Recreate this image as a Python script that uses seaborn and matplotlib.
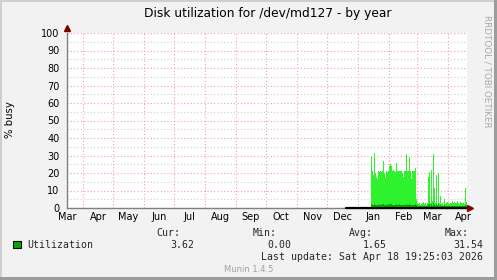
import matplotlib
matplotlib.use("Agg")
import matplotlib.pyplot as plt
import matplotlib.dates as mdates
from matplotlib.ticker import MultipleLocator, NullFormatter
from matplotlib.patches import Rectangle
import seaborn as sns
import pandas as pd
import numpy as np

# ---------------- data ----------------
title = "Disk utilization for /dev/md127 - by year"
ylabel = "% busy"
x_start = "2025-03-16"
x_end = "2026-04-20"

# daily maximum of utilization, starting 2026-01-14
max_start = "2026-01-14"
max_values = [29, 21, 19, 31.5, 20, 18, 16.5, 21, 20.5, 21,
              20.5, 21, 27, 20, 17, 21, 20.5, 21, 24, 25,
              24, 21, 21.5, 21, 20.5, 25.5, 21, 21, 21, 21,
              21, 20, 18, 21, 21, 30.8, 21, 21, 29, 21,
              16.5, 21, 21, 21, 23,
              5, 3, 2.5, 3, 2, 2.5, 3, 3.5, 2.5, 3,
              2, 3, 18, 20.7, 3, 21.7, 4, 30.8, 11.4, 3,
              19, 2, 20, 3, 6.6, 2.5, 3, 2, 5, 2.5,
              3, 3.5, 3, 2.5, 3, 3, 4, 3, 3.5, 3,
              3, 4, 3, 2.5, 3.5, 3, 3, 3, 2.5, 11.4, 3.6]

# daily average of utilization, starting 2026-01-14
avg_start = "2026-01-14"
avg_values = [2.5, 2, 1.8, 2.2, 2, 1.8, 1.6, 2, 2.1, 2,
              1.9, 2.2, 2.4, 2, 1.8, 2, 2.1, 2, 2.3, 2.2,
              2.4, 2, 2, 1.9, 2, 2.3, 2, 2, 2.1, 2,
              2, 1.9, 1.8, 2, 2, 2.5, 2, 2, 2.4, 2,
              1.7, 2, 2, 2, 2.2,
              1.5, 1.2, 1, 1.2, 0.9, 1, 1.2, 1.3, 1, 1.2,
              0.9, 1.2, 2.2, 2.4, 1.2, 2.5, 1.4, 3, 1.6, 1.2,
              2.2, 0.9, 2.3, 1.2, 1.5, 1, 1.2, 0.9, 1.5, 1,
              1.2, 1.3, 1.2, 1, 1.2, 1.2, 1.4, 1.2, 1.3, 1.2,
              1.2, 1.4, 1.2, 1, 1.3, 1.2, 1.2, 1.2, 1, 1.8, 1.4]

# daily minimum, starting 2025-12-20
min_start = "2025-12-20"
min_values = [0.0] * 120

legend_name = "Utilization"
stat_labels = ["Cur:", "Min:", "Avg:", "Max:"]
stat_values = ["3.62", "0.00", "1.65", "31.54"]
last_update = "Last update: Sat Apr 18 19:25:03 2026"
credit = "RRDTOOL / TOBI OETIKER"
footer = "Munin 1.4.5"

# ---------------- style ----------------
sns.set_style("white")
plt.rcParams["font.family"] = ["DejaVu Sans"]

W, H = 497, 280
fig = plt.figure(figsize=(W / 100, H / 100), dpi=100)
fig.patch.set_facecolor("#F2F2F2")

def fx(px):
    return px / W

def fy(py):
    return 1 - py / H

left_px, right_px, top_px, bot_px = 67, 467, 33, 208
ax = fig.add_axes([fx(left_px), fy(bot_px), fx(right_px - left_px), (bot_px - top_px) / H])
ax.set_facecolor("white")

BRIGHT = "#2DF22D"
DARK = "#00AA00"

def series(start, vals):
    d = pd.date_range(start, periods=len(vals), freq="D")
    d_ext = d.append(pd.DatetimeIndex([d[-1] + pd.Timedelta(days=1)]))
    v_ext = list(vals) + [vals[-1]]
    return d_ext, np.array(v_ext, dtype=float)

d_max, v_max = series(max_start, max_values)
d_avg, v_avg = series(avg_start, avg_values)
d_min, v_min = series(min_start, min_values)

ax.fill_between(d_max, v_max, step="post", color=BRIGHT, lw=0, zorder=2)
ax.fill_between(d_avg, v_avg, step="post", color=DARK, lw=0, zorder=3)
sns.lineplot(x=d_min, y=v_min, color="black", linewidth=1.6, ax=ax,
             drawstyle="steps-post", zorder=6, clip_on=False)

ax.set_xlim(pd.Timestamp(x_start), pd.Timestamp(x_end))
ax.set_ylim(0, 100)

# grid
ax.yaxis.set_major_locator(MultipleLocator(10))
ax.yaxis.set_minor_locator(MultipleLocator(5))
ax.xaxis.set_major_locator(mdates.MonthLocator(bymonthday=1))
ax.xaxis.set_major_formatter(NullFormatter())
ax.xaxis.set_minor_locator(mdates.MonthLocator(bymonthday=16))
ax.xaxis.set_minor_formatter(mdates.DateFormatter("%b"))

ax.grid(True, which="major", axis="both", color="#F2A0A0", linestyle=(0, (1, 2)), linewidth=0.8, zorder=1)
ax.grid(True, which="minor", axis="y", color="#CFCFCF", linestyle=(0, (1, 2)), linewidth=0.8, zorder=1)
ax.set_axisbelow(True)

for s in ["top", "right"]:
    ax.spines[s].set_visible(False)
for s in ["left", "bottom"]:
    ax.spines[s].set_color("#808080")
    ax.spines[s].set_linewidth(1.0)
    ax.spines[s].set_zorder(5)

ax.tick_params(axis="y", which="major", length=3, width=0.8, color="#808080",
               labelsize=7, pad=2.5, labelcolor="black")
ax.tick_params(axis="y", which="minor", length=2, width=0.8, color="#808080")
ax.tick_params(axis="x", which="major", length=2, width=0.8, color="#808080", direction="inout")
ax.tick_params(axis="x", which="minor", length=0, labelsize=7, pad=3.0, labelcolor="black")
ax.set_ylabel("")
ax.set_xlabel("")

# axis arrows
ax.plot([0], [1.03], marker="^", color="#7A0000", markersize=4, transform=ax.transAxes, clip_on=False, zorder=7)
ax.plot([1.0085], [0], marker=">", color="#7A0000", markersize=4, transform=ax.transAxes, clip_on=False, zorder=7)
ax.plot([1.0, 1.0085], [0, 0], color="#808080", lw=1.0, transform=ax.transAxes, clip_on=False, zorder=5)

# texts
fig.text(fx(267.5), fy(13), title, ha="center", va="center", fontsize=8.8, color="black")
fig.text(fx(10), fy(120), ylabel, ha="center", va="center", rotation=90, fontsize=7.3, color="black")
fig.text(fx(487), fy(15), credit, ha="center", va="top", rotation=270, fontsize=6.3, color="#A8A8A8")

mono = "DejaVu Sans Mono"
hdr_x = [180, 277, 373, 469]
val_x = [194, 291, 387, 483]
for lab, x in zip(stat_labels, hdr_x):
    fig.text(fx(x), fy(233), lab, ha="right", va="center", fontsize=7.1, family=mono)
for v, x in zip(stat_values, val_x):
    fig.text(fx(x), fy(244.5), v, ha="right", va="center", fontsize=7.1, family=mono)
fig.text(fx(27), fy(244.5), legend_name, ha="left", va="center", fontsize=7.1, family=mono)
fig.patches.append(Rectangle((fx(13), fy(248)), fx(8), 7 / H, transform=fig.transFigure,
                             facecolor="#00A800", edgecolor="black", linewidth=0.8))
fig.text(fx(483), fy(256.5), last_update, ha="right", va="center", fontsize=7.1, family=mono)
fig.text(fx(249), fy(269), footer, ha="center", va="center", fontsize=6.0, color="#A0A0A0")

# frame borders
fig.patches.append(Rectangle((0, 0), fx(2), 1, transform=fig.transFigure, facecolor="#CFCFCF", lw=0))
fig.patches.append(Rectangle((0, 1 - 2 / H), 1, 2 / H, transform=fig.transFigure, facecolor="#CFCFCF", lw=0))
fig.patches.append(Rectangle((1 - 3 / W, 0), 3 / W, 1, transform=fig.transFigure, facecolor="#9C9C9C", lw=0))
fig.patches.append(Rectangle((0, 0), 1, 3 / H, transform=fig.transFigure, facecolor="#9C9C9C", lw=0))

fig.savefig("out.png", dpi=100, facecolor=fig.get_facecolor())
